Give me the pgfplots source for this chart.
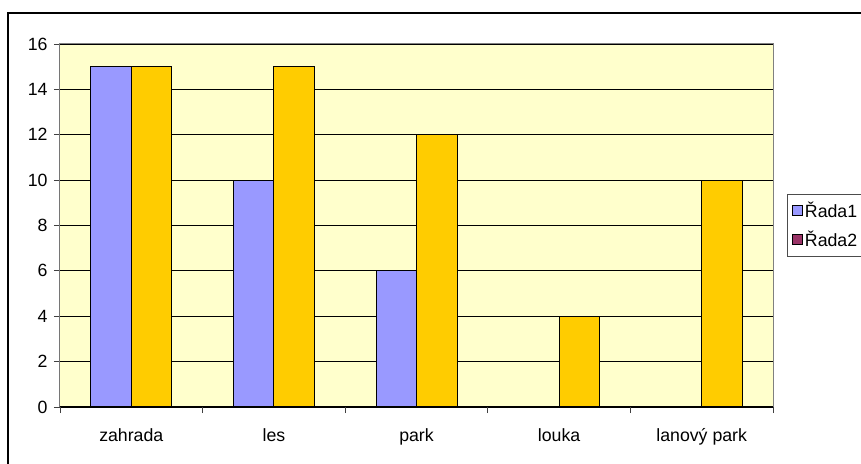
\documentclass[border=0pt]{standalone}
\usepackage{fontspec}
\setmainfont{Liberation Sans}
\usepackage{pgfplots}
\pgfplotsset{compat=1.18}
\definecolor{serA}{HTML}{9999FF}
\definecolor{serB}{HTML}{FFCC00}
\definecolor{legB}{HTML}{993366}
\definecolor{plotbg}{HTML}{FFFFCC}
\newcommand{\lbl}{\fontsize{17.8}{20}\selectfont}
\begin{document}
\begin{tikzpicture}
\path[use as bounding box] (-60bp,-57bp) rectangle (801bp,407bp);
\draw[line width=1.5bp] (-52bp,-90bp) -- (-52bp,394bp) -- (900bp,394bp);
\begin{axis}[
    at={(0,0)}, anchor=south west,
    scale only axis, width=713bp, height=363bp,
    xmin=-0.5, xmax=4.5, ymin=0, ymax=16,
    ytick={0,2,...,16},
    xtick={0,...,4},
    xticklabels={zahrada,les,park,louka,lanový park},
    minor xtick={-0.5,0.5,...,4.5},
    xtick pos=bottom, ytick pos=left,
    tick align=outside,
    major tick length=6bp, minor tick length=6bp,
    major x tick style={draw=none},
    tick style={black!75, line width=0.8bp},
    ymajorgrids,
    major grid style={black, line width=0.8bp},
    axis line style={draw=gray, line width=1bp},
    axis background/.style={fill=plotbg},
    tick label style={font=\lbl},
    xticklabel style={yshift=-12bp},
    yticklabel style={xshift=-3bp},
    /pgf/number format/assume math mode=true,
    legend style={
        at={(1.0196,0.5868)}, anchor=north west,
        draw=black!70, fill=white, font=\lbl,
        inner xsep=5bp, inner ysep=6bp, row sep=8bp,
        cells={anchor=west},
    },
]
\addplot[ybar, bar width=0.284, bar shift=-0.142, fill=serA, draw=black, line width=0.8bp, forget plot]
    coordinates {(0,15) (1,10) (2,6)};
\addplot[ybar, bar width=0.284, bar shift=0.142, fill=serB, draw=black, line width=0.8bp, forget plot]
    coordinates {(0,15) (1,15) (2,12) (3,4) (4,10)};
\draw[black!80, line width=1bp] (axis cs:-0.5,0) -- (axis cs:-0.5,16);
\draw[black, line width=1bp] (axis cs:-0.5,0) -- (axis cs:4.5,0);
\addlegendimage{legend image code/.code={\draw[fill=serA, draw=black, line width=0.8bp] (2bp,-5bp) rectangle (12bp,5bp);}}
\addlegendentry{Řada1}
\addlegendimage{legend image code/.code={\draw[fill=legB, draw=black, line width=0.8bp] (2bp,-5bp) rectangle (12bp,5bp);}}
\addlegendentry{Řada2}
\end{axis}
\end{tikzpicture}
\end{document}
